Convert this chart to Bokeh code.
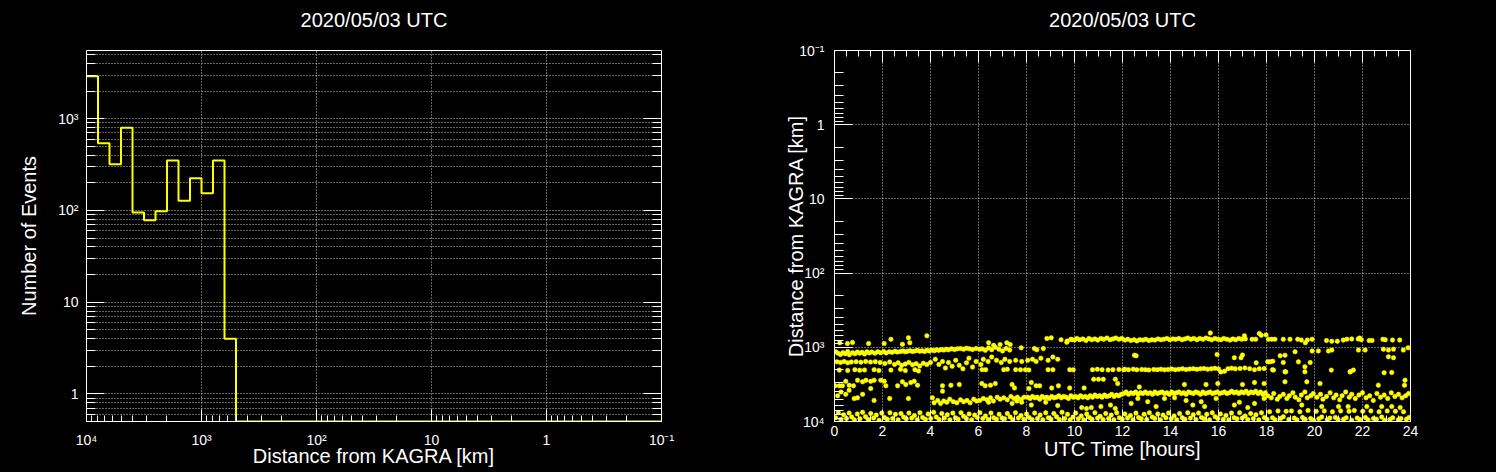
import numpy as np
from bokeh.plotting import figure
from bokeh.models import (Range1d, FixedTicker, LogAxis, LinearAxis, SingleIntervalTicker,
                          CustomJSTickFormatter)
from bokeh.layouts import row
from bokeh.embed import file_html
from bokeh.resources import INLINE

FONT = "Liberation Sans"
YELLOW = "#ffff00"
GRID = "#c8c8c8"

title_text = "2020/05/03 UTC"

# ---------------- left panel: histogram of distance (bins of 0.1 decade, 10^4 -> 10^-1 km)
hist_counts = [2900, 540, 320, 800, 95, 78, 98, 350, 128, 225, 154, 350, 4] + [0] * 37
hist_log_start, hist_log_stop = 4.0, -1.0

# ---------------- right panel: events, UTC hour vs distance [km]
bottom_t = [0.05,0.16,0.27,0.38,0.50,0.61,0.72,0.83,0.95,
            1.06,1.17,1.29,1.40,1.51,1.63,1.74,1.86,1.97,
            2.08,2.20,2.31,2.42,2.54,2.65,2.77,2.88,2.99,
            3.10,3.22,3.33,3.45,3.56,3.67,3.79,3.90,
            4.01,4.13,4.24,4.36,4.47,4.58,4.70,4.81,4.93,
            5.04,5.15,5.27,5.38,5.50,5.61,5.72,5.84,5.95,
            6.06,6.18,6.29,6.41,6.52,6.63,6.75,6.86,6.98,
            7.09,7.20,7.32,7.43,7.54,7.66,7.77,7.89,
            8.00,8.11,8.23,8.34,8.46,8.57,8.68,8.80,8.91,
            9.02,9.14,9.25,9.37,9.48,9.59,9.71,9.82,9.94,
            10.05,10.16,10.28,10.39,10.51,10.62,10.73,10.85,10.96,
            11.07,11.19,11.30,11.42,11.53,11.64,11.76,11.87,11.99,
            12.10,12.21,12.33,12.44,12.56,12.67,12.78,12.90,
            13.01,13.12,13.24,13.35,13.47,13.58,13.69,13.81,13.92,
            14.03,14.15,14.26,14.38,14.49,14.60,14.72,14.83,14.95,
            15.06,15.17,15.29,15.40,15.51,15.63,15.74,15.86,15.97,
            16.08,16.20,16.31,16.43,16.54,16.65,16.77,16.88,16.99,
            17.11,17.22,17.34,17.45,17.56,17.68,17.79,17.91,
            18.02,18.13,18.25,18.36,18.48,18.59,18.70,18.82,18.93,
            19.04,19.16,19.27,19.39,19.50,19.61,19.73,19.84,19.96,
            20.07,20.18,20.30,20.41,20.53,20.64,20.75,20.87,20.98,
            21.09,21.21,21.32,21.44,21.55,21.66,21.78,21.89,
            22.01,22.12,22.23,22.35,22.46,22.58,22.69,22.80,22.92,
            23.03,23.14,23.26,23.37,23.49,23.60,23.71,23.83,23.94]
bottom_d = [8900,7600,9400,8100,9100,7700,8700,9500,7900,
            9200,7500,8600,9400,7800,9000,8200,9600,7700,
            8800,9300,7600,9100,8000,9500,7800,8700,9200,
            7700,9000,8300,9500,7600,8800,9300,7900,
            9100,7500,8700,9400,7800,9000,8100,9500,7700,
            8900,9300,7600,8500,9200,7900,9500,8200,8800,
            7600,9100,8400,9400,7700,8900,9300,8000,9000,
            9200,7800,8700,9500,7600,9000,8300,9300,
            7900,8800,9400,7700,9100,8200,9500,7600,8900,
            9300,7800,8600,9400,7500,9100,8000,9500,8700,
            7700,9200,8400,9500,7900,8800,9300,7600,9000,
            8500,9400,7800,9100,8200,9500,7600,8900,9300,
            7900,9000,8300,9500,7700,8800,9200,8000,
            9400,7600,8700,9100,7900,9500,8200,8900,7700,
            9200,8400,9500,7800,8900,9300,7600,9000,8100,
            9400,7700,8800,9200,8000,9500,7600,8600,9100,
            7900,9300,8300,9500,7700,8900,9200,7600,9000,
            8400,9400,7800,9100,8100,9500,7600,8800,
            9300,7400,8900,9500,7200,9100,8600,7300,9400,
            7200,9000,9500,7400,8800,9300,7100,9100,9600,
            7300,9200,8700,7200,9500,9000,7400,8800,9400,
            7200,9300,8900,7300,9600,7100,9000,9400,
            7300,8800,9500,7200,9100,9300,7400,8700,9600,
            7200,9400,8900,7300,9500,9100,7400,9300,8800]

band_e_t = [4.15,4.30,4.42,4.55,4.68,4.80,4.95,5.10,5.25,5.38,5.52,5.65,5.80,5.92,
            6.05,6.20,6.35,6.50,6.62,6.78,6.90,7.05,7.20,7.35,7.48,7.62,7.78,7.90,
            8.05,8.15,8.25,8.35,8.45,8.55,8.65,8.75,8.85,8.95,9.05,9.15,9.25,9.35,9.45,
            9.55,9.65,9.75,9.85,9.95,10.05,10.15,10.25,10.35,10.45,10.55,10.65,10.75,
            10.85,10.95,11.05,11.15,11.25,11.35,11.45,11.55,11.65,11.75,11.85,11.95,
            12.05,12.15,12.25,12.35,12.45,12.55,12.65,12.75,12.85,12.95,13.05,13.15,
            13.25,13.35,13.45,13.55,13.65,13.75,13.85,13.95,14.05,14.15,14.25,14.35,
            14.45,14.55,14.65,14.75,14.85,14.95,15.05,15.15,15.25,15.35,15.45,15.55,
            15.65,15.75,15.85,15.95,16.05,16.15,16.25,16.35,16.45,16.55,16.65,16.75,
            16.85,16.95,17.05,17.15,17.25,17.35,17.45,17.55,17.65,17.75,17.85,17.95,
            18.05,18.20,18.30,18.45,18.55,18.70,18.85,18.95,19.10,19.20,19.35,19.45,
            19.60,19.70,19.85,19.95,20.10,20.25,20.35,20.50,20.65,20.80,20.90,21.05,
            21.15,21.30,21.45,21.55,21.70,21.85,22.00,22.15,22.30,22.45,22.60,22.75,
            22.90,23.05,23.20,23.35,23.50,23.65,23.80,23.92]
band_e_d = [5600,5200,5700,5300,5500,5000,5400,5600,5100,5400,5200,5600,5000,5300,
            5200,4900,5100,4800,5300,4700,5000,4800,5100,4600,4900,4700,5000,4700,
            4700,4900,4600,4800,4700,5000,4600,4800,4700,4900,4600,4800,4700,4500,4800,
            4600,4700,4900,4500,4700,4600,4800,4500,4700,4600,4800,4500,4700,
            4400,4600,4500,4700,4400,4600,4500,4300,4600,4400,4500,4300,
            4200,4000,4300,4100,4200,4000,4300,4100,4200,4000,4200,4100,
            4300,4000,4200,4100,4000,4200,4100,4300,4000,4200,4100,4000,
            4200,4100,4300,4000,4100,4200,4000,4100,4300,4000,4200,4100,
            4000,4200,4100,4000,4200,4100,4000,4200,4100,3900,4100,4000,
            4200,4000,4100,3900,4200,4000,4100,3900,4200,4000,4300,4100,
            4500,4800,4200,5000,4600,4300,4900,4500,4100,4700,5100,4400,
            4000,4800,4500,4200,4700,4300,5000,4600,4100,4800,4400,5100,
            4500,4000,4700,4300,4900,4400,4100,4800,4500,5200,4200,4700,
            4400,4900,4100,4600,4300,4800,4500,4200]

band_a_t = [9.70,9.85,10.00,10.10,10.22,10.35,10.48,10.60,10.72,10.85,10.97,11.10,11.22,
            11.35,11.48,11.60,11.72,11.85,11.97,12.10,12.22,12.35,12.48,12.60,12.72,
            12.85,12.97,13.10,13.22,13.35,13.48,13.60,13.72,13.85,13.97,14.10,14.22,
            14.35,14.48,14.60,14.72,14.85,14.97,15.10,15.22,15.35,15.48,15.60,15.66,
            15.72,15.85,15.97,16.10,16.22,16.35,16.48,16.60,16.72,16.85,16.97,17.08,
            17.12,17.40,17.55,17.70,17.78,17.98,18.08,18.22,18.35,18.70,18.98,19.30,
            19.45,19.62,19.70,19.90,20.50,20.72,20.95,21.20,21.35,21.55,21.82,21.88,
            21.95,22.28,22.40,22.85,22.95,23.25,23.55]
band_a_d = [820,780,800,760,790,770,810,760,790,770,800,760,780,
            750,790,770,750,780,760,800,780,810,790,820,790,
            800,780,810,790,800,770,790,780,760,790,770,780,
            760,790,770,750,780,760,790,760,780,750,770,640,
            790,760,780,790,760,780,800,770,790,760,780,700,
            770,780,780,650,690,680,780,780,780,780,780,780,
            800,870,800,780,810,830,830,800,780,770,770,750,
            790,810,810,780,790,800,800]

band_b_t = [0.05,0.15,0.25,0.35,0.45,0.55,0.62,0.75,0.85,0.95,1.05,1.15,1.25,1.35,
            1.45,1.55,1.68,1.80,1.92,2.05,2.15,2.28,2.40,2.52,2.62,2.75,2.85,2.95,
            3.05,3.15,3.25,3.35,3.45,3.55,3.65,3.75,3.85,3.95,4.05,4.15,4.25,4.35,
            4.45,4.55,4.65,4.75,4.88,5.00,5.12,5.25,5.38,5.50,5.62,5.75,5.90,6.05,
            6.15,6.28,6.42,6.55,6.70,6.85,7.00,7.15,7.30]
band_b_d = [1150,1200,1250,1180,1220,1140,1260,1180,1220,1160,1200,1170,1230,1150,
            1190,1160,1200,1150,1180,1140,1190,1150,1170,1130,1160,1140,1120,1150,
            1130,1110,1140,1120,1100,1130,1110,1140,1100,1120,1090,1110,1080,1100,
            1070,1090,1060,1080,1050,1070,1050,1040,1060,1030,1050,1070,1040,1060,
            1050,1100,1020,1080,1000,1060,1120,1040,1090]

band_c_t = [0.10,0.25,0.40,0.55,0.70,0.90,1.10,1.30,1.50,1.70,1.90,2.10,2.30,2.50,
            2.65,2.80,2.95,3.10,3.25,3.40,3.55,3.70,3.85,4.00,
            0.20,0.55,0.85,1.05,1.25,1.65,1.85,2.35,2.75,2.95,3.35,3.50,
            4.20,4.35,4.50,4.62,4.75,4.90,5.05,5.20,5.35,5.50,5.60,5.75,5.90,6.10,
            6.20,6.40,6.55,6.75,6.95,7.10,7.30,7.55,7.80,8.05,8.25,8.40,8.60,8.90,9.10,9.30,
            6.15,6.30,7.05,7.20,7.55,7.75,7.95,8.10,8.90,9.10,9.80,9.95,10.75,10.95,
            11.15,11.40,11.60,11.85,12.05,
            12.10,12.25,12.45,12.60,12.80,12.95,13.10,13.30,13.45,13.60,13.75,13.90,
            14.05,14.20,14.35,14.50,14.65,14.80,14.95,15.10,15.25,15.40,15.55,15.70,
            15.85,16.00,16.10,16.25,16.40,16.55,16.70,16.90,17.10,17.30,17.50,17.70,17.90,
            18.25,18.80,19.60,20.70,21.50,22.90]
band_c_d = [1570,1600,1550,1620,1580,1560,1590,1550,1580,1560,1600,1650,1580,1700,
            1620,1750,1680,1600,1720,1660,1780,1640,1700,1600,
            2030,2050,2000,2040,2020,2000,2050,2030,1980,2060,2000,2080,
            1450,1700,1550,1900,1600,1800,1500,1750,1950,1620,1400,1850,1550,1700,
            1450,1550,1350,1500,1600,1450,1550,1500,1550,1500,1450,1550,1400,1500,1350,1450,
            2000,2000,2000,1980,2000,2010,2000,2020,2000,2000,2000,2010,2000,1980,
            2000,2020,2000,1990,2000,
            1980,2000,1970,2010,1990,2000,2020,1990,2000,1970,2010,1990,
            1960,2000,1980,1950,1990,1960,1940,1980,1950,1930,1970,1950,
            1920,1960,2150,2100,1940,1910,1950,1930,1900,1940,2000,1950,1930,
            2000,2140,2140,2030,2140,2200]

scatter_t = [0.22,0.54,0.75,1.42,2.07,2.35,2.83,3.08,3.14,3.85,
             6.42,6.63,6.90,7.18,7.32,7.78,8.33,8.43,8.70,8.85,9.03,9.44,9.68,9.90,
             15.94,16.66,16.94,17.00,17.57,18.05,18.26,12.50,12.57,
             18.57,18.77,18.70,19.33,19.60,19.82,23.08,23.29,18.15,
             19.19,19.90,20.16,20.58,20.72,21.83,22.11,22.87,23.08,23.29,23.70,23.90,
             0.33,0.47,0.96,1.17,1.31,1.51,1.65,1.93,2.07,2.14,2.83,2.97,3.18,3.32,
             3.46,2.63,0.02,0.20,0.61,0.79,1.51,4.50,4.50,4.85,5.20,
             0.13,0.27,0.47,0.61,0.82,0.96,1.17,1.65,2.30,3.08,4.08,
             10.80,11.00,11.20,11.70,11.80,
             6.14,6.28,6.50,6.70,7.40,7.50,8.10,8.20,8.40,8.55,9.05,9.33,9.80,10.40,
             6.42,7.40,7.60,7.80,8.20,8.80,9.30,10.30,10.50,10.70,11.10,11.50,11.70,
             12.70,14.58,15.48,15.97,17.00,17.50,17.90,
             12.36,12.64,13.05,13.40,13.75,14.17,14.65,14.93,15.28,15.42,15.90,16.66,
             16.87,17.22,17.50,17.90,
             18.77,19.68,20.23,22.66,23.77,23.75,18.29,18.77,21.48,21.62,23.22,
             19.47,20.30,21.00,21.40,22.18,22.80,23.22,23.57]
scatter_d = [870,890,860,890,890,780,910,745,870,700,
             870,940,920,870,920,1016,1040,1080,1040,760,745,790,855,790,
             1250,1380,1380,1270,1620,1570,1540,1280,1300,
             1300,1280,1600,1570,1830,1600,1340,1380,1570,
             1150,1120,1120,1120,1090,1090,1090,1060,1090,1060,1090,1016,
             3300,2870,2780,2920,2780,2870,2780,2780,2870,3300,2920,3180,2980,2870,
             3240,3300,3300,3300,3240,3300,3600,3300,3900,3240,3180,
             4500,4000,4300,3800,4900,4800,4300,5200,4900,4900,4800,
             2700,2700,2700,2700,3080,
             3080,3300,3240,3080,3180,3530,3600,2980,3300,3300,3530,3300,3530,3530,
             5500,5700,5300,5500,6000,5500,6100,6500,6700,6500,6300,6000,6700,
             3420,3180,3180,3080,3180,2980,3080,
             5700,4900,5400,6300,4900,4800,5200,6000,5400,6300,4900,6000,
             5500,6500,5700,4900,
             2920,2920,3080,3240,2780,3240,2030,2140,2140,2030,2180,
             6000,6300,6300,6300,6300,6300,6300,6500]

x_hours_major_step, x_hours_minor_per_major = 2, 4
left_x_overrides = {10000: "10⁴", 1000: "10³", 100: "10²", 10: "10", 1: "1", 0.1: "10⁻¹"}
left_y_overrides = {1000: "10³", 100: "10²", 10: "10", 1: "1"}
right_y_overrides = {10000: "10⁴", 1000: "10³", 100: "10²", 10: "10", 1: "1", 0.1: "10⁻¹"}

FRAME_H = 371
TOP_BORDER = 64      # room above the frame (page is shifted up so the frame still starts at y=50)
PAGE_SHIFT = 14


def log_ticker(decades, lo, hi):
    major = [10 ** k if k >= 0 else 10.0 ** k for k in decades]
    minor = [m * 10.0 ** k for k in range(min(decades) - 1, max(decades) + 1) for m in range(2, 10)]
    minor = [v for v in minor if lo <= v <= hi]
    return FixedTicker(ticks=major, minor_ticks=minor)


def style_axis(ax, tick_size="14px"):
    ax.axis_line_color = "white"
    ax.major_tick_line_color = "white"
    ax.minor_tick_line_color = "white"
    ax.major_tick_out = 0
    ax.minor_tick_out = 0
    ax.major_label_text_color = "white"
    ax.major_label_text_font = FONT
    ax.major_label_text_font_size = tick_size
    ax.axis_label_text_color = "white"
    ax.axis_label_text_font = FONT
    ax.axis_label_text_font_size = "20px"
    ax.axis_label_text_font_style = "normal"


def ticks_only(ax):
    # an axis that only carries the inward ticks of the frame (empty labels)
    ax.formatter = CustomJSTickFormatter(code="return ''")
    ax.major_label_text_font_size = "1px"
    ax.major_label_standoff = 0


def style_fig(p):
    p.background_fill_color = "black"
    p.border_fill_color = "black"
    p.outline_line_color = "white"
    p.title.text = title_text
    p.title.align = "center"
    p.title.vertical_align = "bottom"
    p.title.text_color = "white"
    p.title.text_font = FONT
    p.title.text_font_size = "20px"
    p.title.text_font_style = "normal"
    p.title.standoff = 39


# ---------------- left figure
p1 = figure(frame_width=575, frame_height=FRAME_H, x_axis_type="log", y_axis_type="log",
            x_range=Range1d(1e4, 1e-1), y_range=Range1d(0.5, 5550),
            output_backend="svg", toolbar_location=None,
            min_border_left=78, min_border_right=95, min_border_top=TOP_BORDER, min_border_bottom=10)
style_fig(p1)

edges = 10.0 ** np.linspace(hist_log_start, hist_log_stop, len(hist_counts) + 1)
ymin = p1.y_range.start
vals = np.maximum(np.array(hist_counts, dtype=float), ymin)
step_y = np.append(vals, vals[-1])
p1.step(x=edges, y=step_y, mode="after", line_color=YELLOW, line_width=2)

xt = log_ticker([4, 3, 2, 1, 0, -1], 0.1, 1e4)
yt = log_ticker([0, 1, 2, 3], 0.5, 5550)
p1.xaxis.ticker = xt
p1.yaxis.ticker = yt
p1.xaxis.major_label_overrides = left_x_overrides
p1.yaxis.major_label_overrides = left_y_overrides
p1.xaxis.axis_label = "Distance from KAGRA [km]"
p1.yaxis.axis_label = "Number of Events"
for ax in p1.xaxis:
    style_axis(ax)
    ax.major_tick_in = 12
    ax.minor_tick_in = 6
    ax.major_label_standoff = 10
    ax.axis_label_standoff = -6
for ax in p1.yaxis:
    style_axis(ax)
    ax.major_tick_in = 18
    ax.minor_tick_in = 9
    ax.major_label_standoff = 8
    ax.axis_label_standoff = 15

ry = LogAxis(ticker=yt)
style_axis(ry)
ticks_only(ry)
ry.major_tick_in = 18
ry.minor_tick_in = 9
p1.add_layout(ry, "right")

p1.xgrid.grid_line_color = GRID
p1.xgrid.grid_line_dash = "1 2"
p1.ygrid.grid_line_color = GRID
p1.ygrid.grid_line_dash = "1 2"
p1.ygrid.minor_grid_line_color = GRID
p1.ygrid.minor_grid_line_dash = "1 2"

# ---------------- right figure
p2 = figure(frame_width=576, frame_height=FRAME_H, y_axis_type="log",
            x_range=Range1d(0, 24), y_range=Range1d(1e4, 1e-1),
            output_backend="svg", toolbar_location=None,
            min_border_left=78, min_border_right=78, min_border_top=TOP_BORDER, min_border_bottom=10)
style_fig(p2)

all_t = bottom_t + band_e_t + band_a_t + band_b_t + band_c_t + scatter_t
all_d = bottom_d + band_e_d + band_a_d + band_b_d + band_c_d + scatter_d
p2.scatter(x=all_t, y=all_d, size=4.5, marker="circle", fill_color=YELLOW, line_color=YELLOW, line_width=0.5)

xt2 = SingleIntervalTicker(interval=x_hours_major_step, num_minor_ticks=x_hours_minor_per_major)
yt2 = log_ticker([-1, 0, 1, 2, 3, 4], 0.1, 1e4)
p2.xaxis.ticker = xt2
p2.yaxis.ticker = yt2
p2.yaxis.major_label_overrides = right_y_overrides
p2.xaxis.axis_label = "UTC Time [hours]"
p2.yaxis.axis_label = "Distance from KAGRA [km]"
for ax in p2.xaxis:
    style_axis(ax)
    ax.major_tick_in = 12
    ax.minor_tick_in = 6
    ax.major_label_standoff = 4
    ax.axis_label_standoff = -1
for ax in p2.yaxis:
    style_axis(ax)
    ax.major_tick_in = 18
    ax.minor_tick_in = 9
    ax.major_label_standoff = 10
    ax.axis_label_standoff = -11

tx = LinearAxis(ticker=SingleIntervalTicker(interval=x_hours_major_step, num_minor_ticks=x_hours_minor_per_major))
style_axis(tx)
ticks_only(tx)
tx.major_tick_in = 12
tx.minor_tick_in = 6
p2.add_layout(tx, "above")

p2.xgrid.grid_line_color = GRID
p2.xgrid.grid_line_dash = "1 2"
p2.ygrid.grid_line_color = GRID
p2.ygrid.grid_line_dash = "1 2"

layout = row(p1, p2)
html = file_html(layout, INLINE, title="2020/05/03 UTC")
css = ("<style>html{background:#000;overflow:hidden;height:auto !important;}"
       "body{background:#000;margin:-%dpx 8px 8px 8px !important;overflow:visible !important;"
       "height:auto !important;}</style></head>" % PAGE_SHIFT)
html = html.replace("</head>", css, 1)
open("out.html", "w").write(html)
